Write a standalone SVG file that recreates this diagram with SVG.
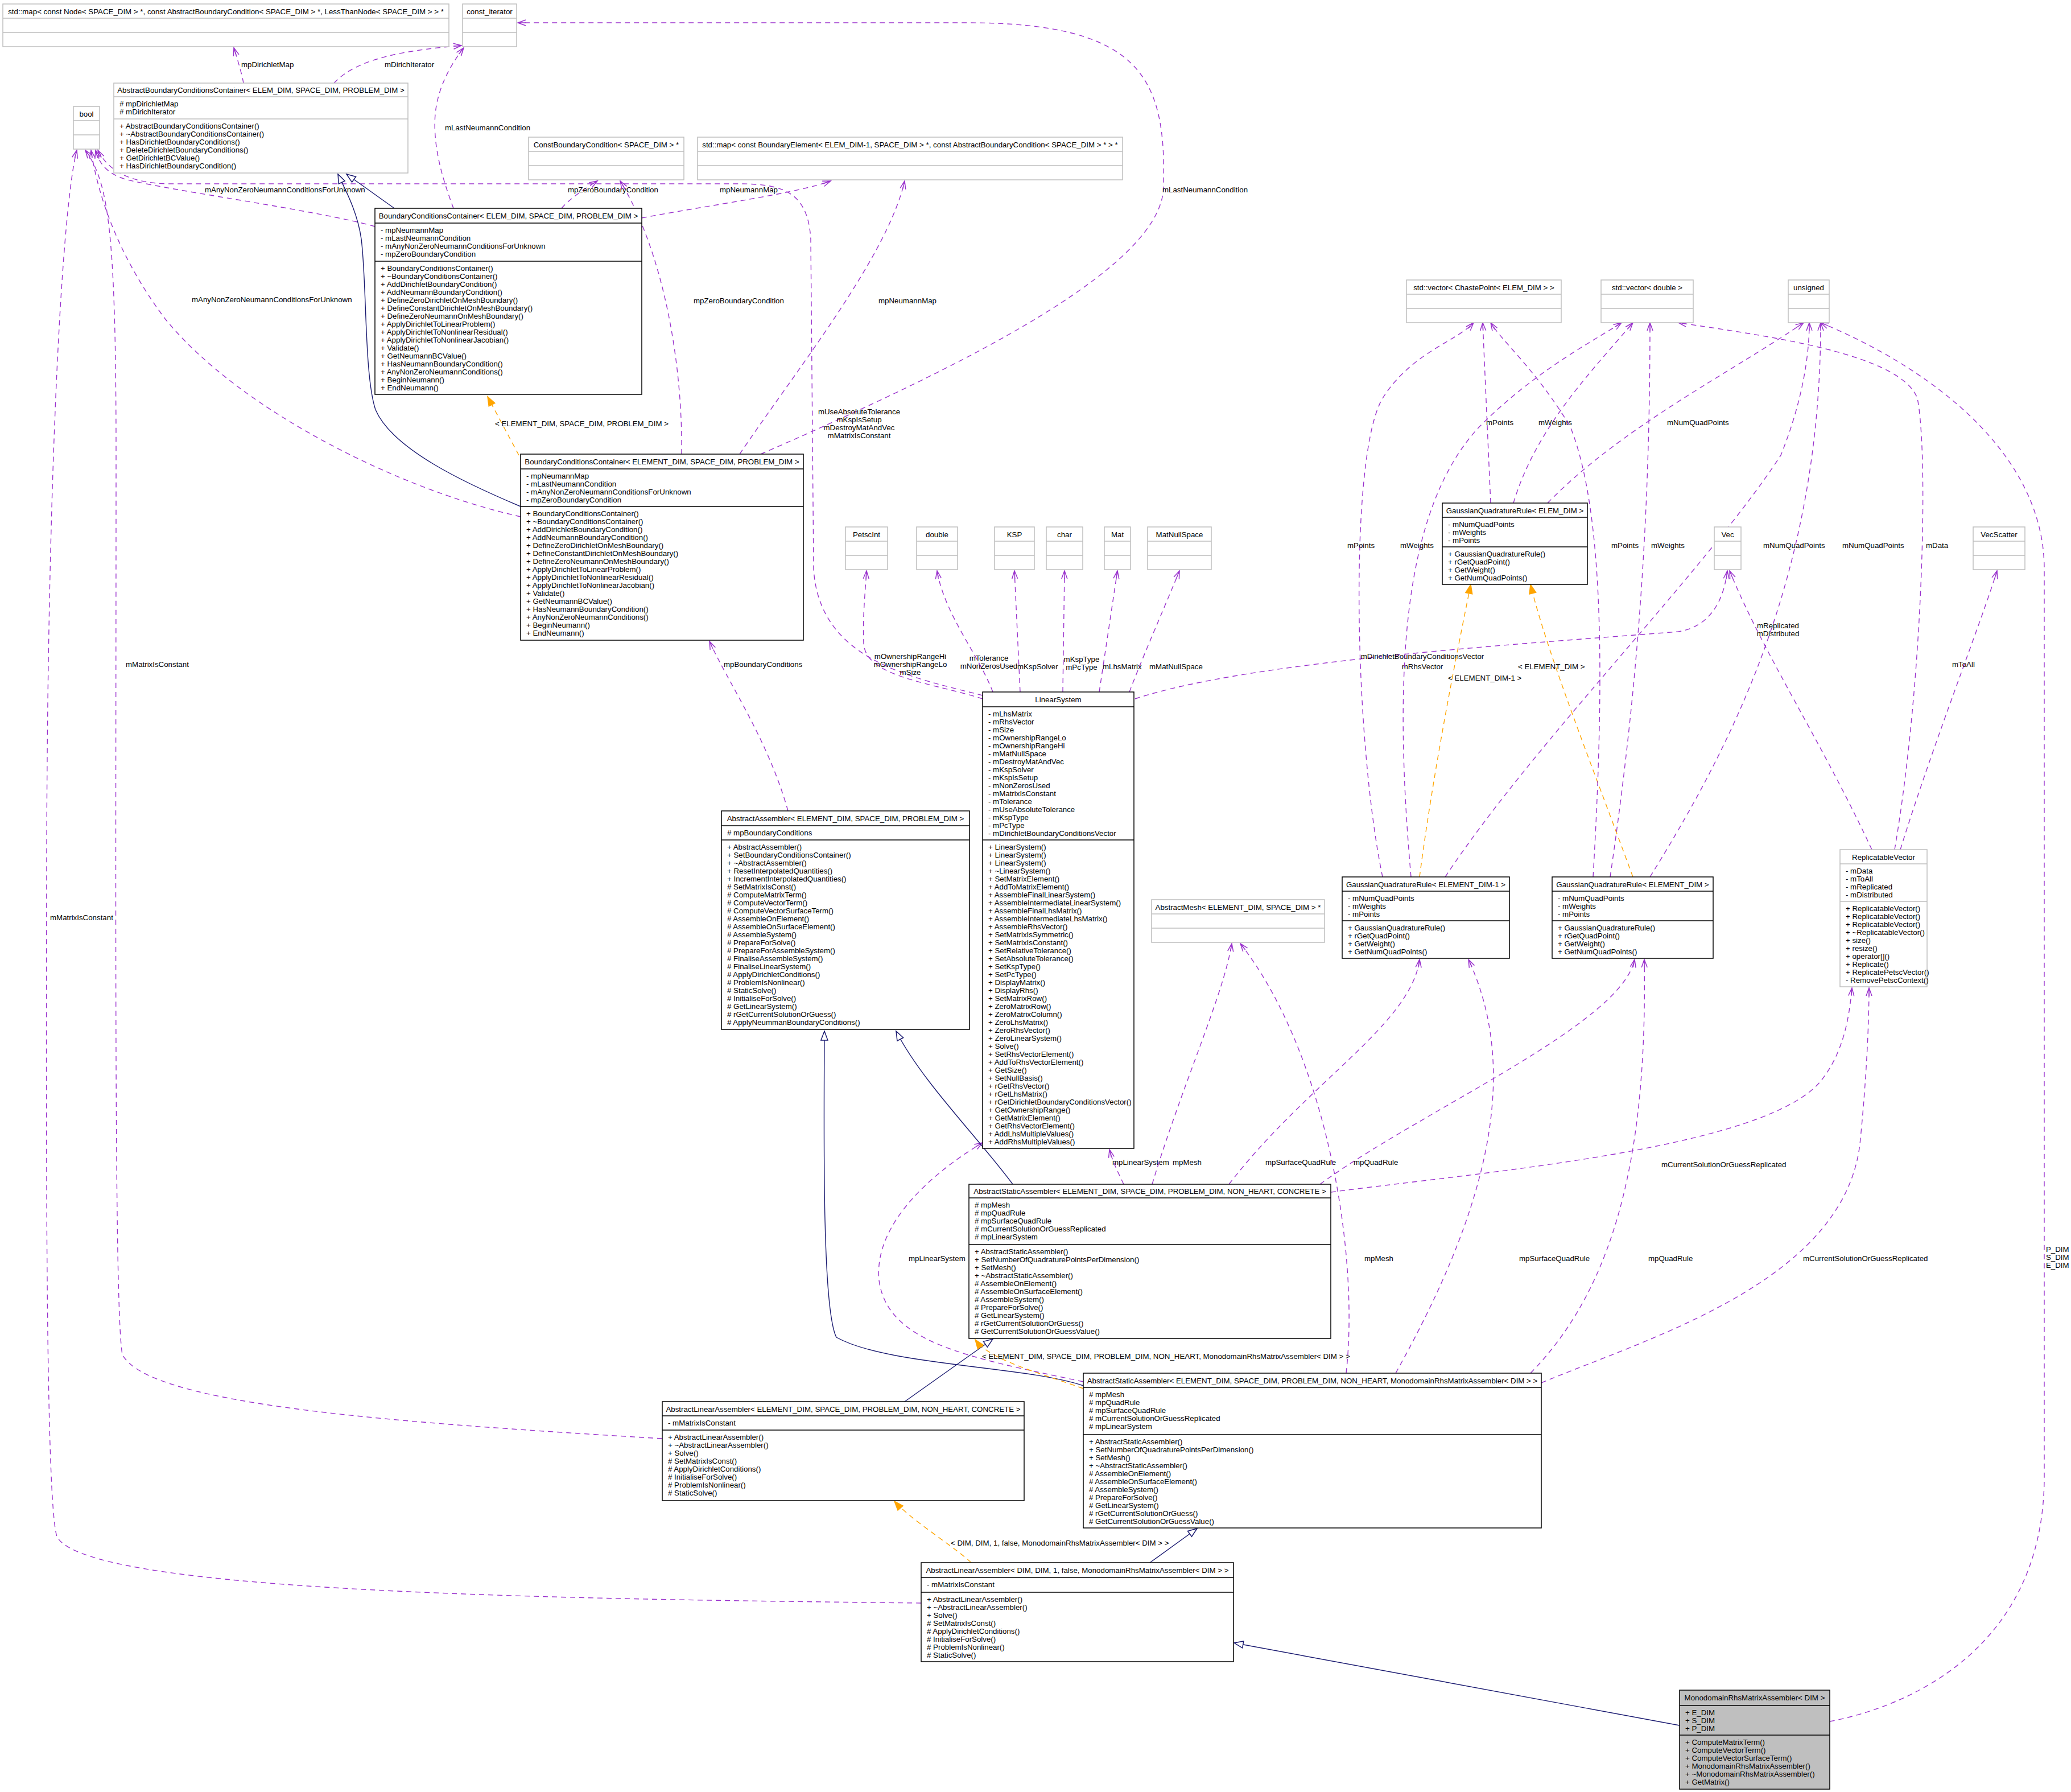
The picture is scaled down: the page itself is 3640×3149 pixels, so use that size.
<svg xmlns="http://www.w3.org/2000/svg" width="3640" height="3149" viewBox="0 0 3640 3149">
<style>
text{font-family:"Liberation Sans",Arial,Helvetica,sans-serif;font-size:13.3px;fill:#000}
.c{text-anchor:middle}
.b{fill:#fff;stroke:#000;stroke-width:1.5}
.g{fill:#fff;stroke:#bfbfbf;stroke-width:1.5}
.gr{fill:#bfbfbf;stroke:#000;stroke-width:1.5}
.dk{stroke:#000;stroke-width:1.5}
.dg{stroke:#bfbfbf;stroke-width:1.5}
.u{fill:none;stroke:#9a32cd;stroke-width:1.4;stroke-dasharray:9,7;marker-end:url(#pu)}
.i{fill:none;stroke:#191970;stroke-width:1.4;marker-end:url(#inh)}
.o{fill:none;stroke:#ffa500;stroke-width:1.4;stroke-dasharray:9,7;marker-end:url(#tpl)}
</style>
<defs>
<marker id="pu" markerWidth="18" markerHeight="14" refX="16" refY="7" orient="auto" markerUnits="userSpaceOnUse"><path d="M2,2 L16,7 L2,12 M2,7 L16,7" fill="none" stroke="#9a32cd" stroke-width="1.5"/></marker>
<marker id="inh" markerWidth="20" markerHeight="16" refX="18" refY="8" orient="auto" markerUnits="userSpaceOnUse"><path d="M2,2 L18,8 L2,14 Z" fill="#fff" stroke="#191970" stroke-width="1.5"/></marker>
<marker id="tpl" markerWidth="20" markerHeight="16" refX="18" refY="8" orient="auto" markerUnits="userSpaceOnUse"><path d="M2,2 L18,8 L2,14 Z" fill="#ffa500" stroke="#ffa500" stroke-width="1.5"/></marker>
</defs>
<rect width="3640" height="3149" fill="#fff"/>

<g id="connectors">
<path class="u" d="M428,146 C424,125 416,100 411,84"/>
<text x="424" y="118">mpDirichletMap</text>
<path class="u" d="M587,146 C630,100 720,88 811,80"/>
<text x="676" y="118">mDirichIterator</text>
<path class="u" d="M797,366 C780,320 760,260 765,200 C770,150 795,110 815,84"/>
<text x="782" y="229">mLastNeumannCondition</text>
<path class="u" d="M1337,798 C1700,640 2040,470 2045,330 C2050,140 2010,40 1700,40 L910,40"/>
<text x="2043" y="338">mLastNeumannCondition</text>
<path class="u" d="M659,398 C560,370 300,335 220,315 C190,305 175,290 168,264"/>
<text x="360" y="338">mAnyNonZeroNeumannConditionsForUnknown</text>
<path class="u" d="M915,908 C700,860 420,720 290,560 C200,440 170,330 160,264"/>
<text x="337" y="531">mAnyNonZeroNeumannConditionsForUnknown</text>
<path class="u" d="M1727,1222 C1600,1190 1440,1160 1430,1000 L1425,420 C1420,340 1380,323 1300,323 L300,323 C230,323 190,300 172,264"/>
<text class="c" x="1510" y="728">mUseAbsoluteTolerance</text>
<text class="c" x="1510" y="742">mKspIsSetup</text>
<text class="c" x="1510" y="756">mDestroyMatAndVec</text>
<text class="c" x="1510" y="770">mMatrixIsConstant</text>
<path class="u" d="M1164,2528 C700,2500 260,2470 215,2380 C200,2300 204,1500 204,800 C204,400 190,320 150,264"/>
<text x="221" y="1172">mMatrixIsConstant</text>
<path class="u" d="M1619,2817 C1000,2810 150,2800 100,2700 C80,2640 81,2000 82,1500 C84,800 110,360 135,264"/>
<text x="88" y="1617">mMatrixIsConstant</text>
<path class="u" d="M987,366 C1000,350 1030,330 1050,318"/>
<text x="998" y="338">mpZeroBoundaryCondition</text>
<path class="u" d="M1198,798 C1200,650 1170,450 1090,318"/>
<text x="1219" y="533">mpZeroBoundaryCondition</text>
<path class="u" d="M1128,383 C1250,360 1400,340 1460,318"/>
<text x="1265" y="338">mpNeumannMap</text>
<path class="u" d="M1300,798 C1400,650 1560,450 1590,318"/>
<text x="1544" y="533">mpNeumannMap</text>
<path class="i" d="M693,366 L609,306"/>
<path class="i" d="M915,890 C820,850 690,790 660,720 C640,660 645,500 635,420 C628,370 605,330 594,306"/>
<path class="o" d="M912,800 L857,697"/>
<text x="870" y="749">&lt; ELEMENT_DIM, SPACE_DIM, PROBLEM_DIM &gt;</text>
<path class="u" d="M1385,1425 C1350,1300 1280,1200 1247,1127"/>
<text x="1272" y="1172">mpBoundaryConditions</text>
<path class="u" d="M1727,1228 C1640,1200 1520,1190 1518,1130 C1516,1080 1521,1040 1523,1003"/>
<text class="c" x="1600" y="1158">mOwnershipRangeHi</text>
<text class="c" x="1600" y="1172">mOwnershipRangeLo</text>
<text class="c" x="1600" y="1186">mSize</text>
<path class="u" d="M1745,1216 C1720,1150 1660,1080 1647,1003"/>
<text class="c" x="1738" y="1161">mTolerance</text>
<text class="c" x="1738" y="1175">mNonZerosUsed</text>
<path class="u" d="M1793,1216 L1783,1003"/>
<text x="1788" y="1176">mKspSolver</text>
<path class="u" d="M1868,1216 L1871,1003"/>
<text class="c" x="1901" y="1163">mKspType</text>
<text class="c" x="1901" y="1177">mPcType</text>
<path class="u" d="M1932,1216 L1964,1003"/>
<text x="1938" y="1176">mLhsMatrix</text>
<path class="u" d="M1985,1216 C2010,1150 2050,1060 2073,1003"/>
<text x="2020" y="1176">mMatNullSpace</text>
<path class="u" d="M1995,1228 C2200,1160 2700,1130 2950,1110 C3010,1100 3030,1050 3036,1003"/>
<text class="c" x="2500" y="1158">mDirichletBoundaryConditionsVector</text>
<text class="c" x="2500" y="1176">mRhsVector</text>
<path class="u" d="M1975,2081 C1965,2060 1955,2040 1950,2020"/>
<text x="1955" y="2047">mpLinearSystem</text>
<path class="u" d="M2025,2081 C2080,1900 2150,1750 2165,1658"/>
<text x="2061" y="2047">mpMesh</text>
<path class="u" d="M2160,2081 C2300,1900 2480,1800 2495,1686"/>
<text x="2224" y="2047">mpSurfaceQuadRule</text>
<path class="u" d="M2320,2081 C2500,1950 2850,1800 2873,1686"/>
<text x="2379" y="2047">mpQuadRule</text>
<path class="u" d="M2339,2095 C2600,2060 3100,2020 3200,1900 C3240,1850 3250,1790 3255,1736"/>
<text x="2920" y="2051">mCurrentSolutionOrGuessReplicated</text>
<path class="u" d="M1904,2428 C1700,2385 1560,2360 1545,2250 C1535,2150 1640,2060 1727,2008"/>
<text x="1597" y="2216">mpLinearSystem</text>
<path class="u" d="M2366,2413 C2390,2200 2330,1850 2180,1658"/>
<text x="2398" y="2216">mpMesh</text>
<path class="u" d="M2453,2413 C2600,2150 2680,1900 2581,1686"/>
<text x="2670" y="2216">mpSurfaceQuadRule</text>
<path class="u" d="M2690,2413 C2850,2250 2895,2000 2890,1686"/>
<text x="2897" y="2216">mpQuadRule</text>
<path class="u" d="M2709,2430 C2900,2350 3250,2250 3270,2000 C3280,1900 3285,1800 3285,1736"/>
<text x="3169" y="2216">mCurrentSolutionOrGuessReplicated</text>
<path class="i" d="M1780,2081 C1720,2000 1620,1900 1575,1812"/>
<path class="i" d="M1590,2463 L1745,2353"/>
<path class="i" d="M1904,2435 C1800,2400 1560,2400 1470,2350 C1445,2300 1448,2000 1449,1812"/>
<path class="o" d="M1904,2440 C1820,2410 1740,2390 1714,2354"/>
<text x="1726" y="2388">&lt; ELEMENT_DIM, SPACE_DIM, PROBLEM_DIM, NON_HEART, MonodomainRhsMatrixAssembler&lt; DIM &gt; &gt;</text>
<path class="o" d="M1707,2746 C1680,2720 1600,2670 1572,2638"/>
<text x="1671" y="2716">&lt; DIM, DIM, 1, false, MonodomainRhsMatrixAssembler&lt; DIM &gt; &gt;</text>
<path class="i" d="M2021,2746 L2104,2686"/>
<path class="i" d="M2952,3032 L2169,2887"/>
<path class="u" d="M3216,3025 C3350,3000 3590,2900 3593,2600 L3593,1000 C3593,800 3400,650 3200,567"/>
<text x="3596" y="2200">P_DIM</text>
<text x="3596" y="2214">S_DIM</text>
<text x="3596" y="2228">E_DIM</text>
<path class="u" d="M2620,884 L2606,567"/>
<text x="2612" y="747">mPoints</text>
<path class="u" d="M2660,884 C2700,750 2800,650 2870,567"/>
<text x="2704" y="747">mWeights</text>
<path class="u" d="M2720,884 C2850,750 3050,650 3170,567"/>
<text x="2930" y="747">mNumQuadPoints</text>
<path class="o" d="M2495,1541 C2520,1350 2560,1150 2585,1027"/>
<text x="2545" y="1196">&lt; ELEMENT_DIM-1 &gt;</text>
<path class="o" d="M2870,1541 C2800,1350 2720,1150 2690,1027"/>
<text x="2668" y="1176">&lt; ELEMENT_DIM &gt;</text>
<path class="u" d="M2430,1541 C2380,1300 2370,800 2430,700 C2480,620 2560,600 2590,567"/>
<text x="2368" y="963">mPoints</text>
<path class="u" d="M2480,1541 C2450,1200 2460,900 2600,750 C2700,650 2800,600 2850,567"/>
<text x="2461" y="963">mWeights</text>
<path class="u" d="M2540,1541 C2700,1300 3000,1000 3130,800 C3170,700 3180,620 3180,567"/>
<text x="3099" y="963">mNumQuadPoints</text>
<path class="u" d="M2800,1541 C2820,1200 2820,900 2760,750 C2700,650 2640,600 2620,567"/>
<text x="2832" y="963">mPoints</text>
<path class="u" d="M2830,1541 C2880,1200 2900,900 2900,567"/>
<text x="2902" y="963">mWeights</text>
<path class="u" d="M2900,1541 C3050,1300 3200,1000 3200,567"/>
<text x="3238" y="963">mNumQuadPoints</text>
<path class="u" d="M3330,1493 C3380,1200 3390,800 3370,700 C3340,620 3100,590 2950,567"/>
<text x="3385" y="963">mData</text>
<path class="u" d="M3290,1493 C3200,1300 3100,1150 3040,1003"/>
<text class="c" x="3125" y="1104">mReplicated</text>
<text class="c" x="3125" y="1118">mDistributed</text>
<path class="u" d="M3340,1493 C3400,1300 3480,1100 3510,1003"/>
<text x="3431" y="1172">mToAll</text>
</g>

<g id="n_map1"><rect class="g" x="5" y="7" width="784" height="75"/><path class="dg" d="M5,32H789M5,57H789"/><text class="c" x="397" y="24.5">std::map&lt; const Node&lt; SPACE_DIM &gt; *, const AbstractBoundaryCondition&lt; SPACE_DIM &gt; *, LessThanNode&lt; SPACE_DIM &gt; &gt; *</text></g>
<g id="n_constit"><rect class="g" x="813" y="7" width="95" height="75"/><path class="dg" d="M813,32H908M813,57H908"/><text class="c" x="860.5" y="24.5">const_iterator</text></g>
<g id="n_bool"><rect class="g" x="129" y="187" width="46" height="75"/><path class="dg" d="M129,212H175M129,237H175"/><text class="c" x="152" y="204.5">bool</text></g>
<g id="n_constbc"><rect class="g" x="929" y="241" width="273" height="75"/><path class="dg" d="M929,266H1202M929,291H1202"/><text class="c" x="1065.5" y="258.5">ConstBoundaryCondition&lt; SPACE_DIM &gt; *</text></g>
<g id="n_map2"><rect class="g" x="1226" y="241" width="747" height="75"/><path class="dg" d="M1226,266H1973M1226,291H1973"/><text class="c" x="1599.5" y="258.5">std::map&lt; const BoundaryElement&lt; ELEM_DIM-1, SPACE_DIM &gt; *, const AbstractBoundaryCondition&lt; SPACE_DIM &gt; * &gt; *</text></g>

<g id="n_abcc"><rect class="g" x="200" y="146" width="517" height="158"/><path class="dg" d="M200,170H717M200,209H717"/><text class="c" x="458.5" y="163">AbstractBoundaryConditionsContainer&lt; ELEM_DIM, SPACE_DIM, PROBLEM_DIM &gt;</text>
<text x="210" y="186.5"><tspan x="210">#  mpDirichletMap</tspan><tspan x="210" dy="14">#  mDirichIterator</tspan></text>
<text x="210" y="225.5"><tspan x="210">+ AbstractBoundaryConditionsContainer()</tspan><tspan x="210" dy="14">+ ~AbstractBoundaryConditionsContainer()</tspan><tspan x="210" dy="14">+ HasDirichletBoundaryConditions()</tspan><tspan x="210" dy="14">+ DeleteDirichletBoundaryConditions()</tspan><tspan x="210" dy="14">+ GetDirichletBCValue()</tspan><tspan x="210" dy="14">+ HasDirichletBoundaryCondition()</tspan></text></g>

<g id="n_bcc_elem"><rect class="b" x="659" y="366" width="469" height="327"/><path class="dk" d="M659,392H1128M659,459H1128"/><text class="c" x="893.5" y="384">BoundaryConditionsContainer&lt; ELEM_DIM, SPACE_DIM, PROBLEM_DIM &gt;</text>
<text x="669" y="408.5"><tspan x="669">- mpNeumannMap</tspan><tspan x="669" dy="14">- mLastNeumannCondition</tspan><tspan x="669" dy="14">- mAnyNonZeroNeumannConditionsForUnknown</tspan><tspan x="669" dy="14">- mpZeroBoundaryCondition</tspan></text>
<text x="669" y="475.5"><tspan x="669">+ BoundaryConditionsContainer()</tspan><tspan x="669" dy="14">+ ~BoundaryConditionsContainer()</tspan><tspan x="669" dy="14">+ AddDirichletBoundaryCondition()</tspan><tspan x="669" dy="14">+ AddNeumannBoundaryCondition()</tspan><tspan x="669" dy="14">+ DefineZeroDirichletOnMeshBoundary()</tspan><tspan x="669" dy="14">+ DefineConstantDirichletOnMeshBoundary()</tspan><tspan x="669" dy="14">+ DefineZeroNeumannOnMeshBoundary()</tspan><tspan x="669" dy="14">+ ApplyDirichletToLinearProblem()</tspan><tspan x="669" dy="14">+ ApplyDirichletToNonlinearResidual()</tspan><tspan x="669" dy="14">+ ApplyDirichletToNonlinearJacobian()</tspan><tspan x="669" dy="14">+ Validate()</tspan><tspan x="669" dy="14">+ GetNeumannBCValue()</tspan><tspan x="669" dy="14">+ HasNeumannBoundaryCondition()</tspan><tspan x="669" dy="14">+ AnyNonZeroNeumannConditions()</tspan><tspan x="669" dy="14">+ BeginNeumann()</tspan><tspan x="669" dy="14">+ EndNeumann()</tspan></text></g>

<g id="n_bcc_element"><rect class="b" x="915" y="798" width="497" height="327"/><path class="dk" d="M915,824H1412M915,890H1412"/><text class="c" x="1163.5" y="816">BoundaryConditionsContainer&lt; ELEMENT_DIM, SPACE_DIM, PROBLEM_DIM &gt;</text>
<text x="925" y="840.5"><tspan x="925">- mpNeumannMap</tspan><tspan x="925" dy="14">- mLastNeumannCondition</tspan><tspan x="925" dy="14">- mAnyNonZeroNeumannConditionsForUnknown</tspan><tspan x="925" dy="14">- mpZeroBoundaryCondition</tspan></text>
<text x="925" y="906.5"><tspan x="925">+ BoundaryConditionsContainer()</tspan><tspan x="925" dy="14">+ ~BoundaryConditionsContainer()</tspan><tspan x="925" dy="14">+ AddDirichletBoundaryCondition()</tspan><tspan x="925" dy="14">+ AddNeumannBoundaryCondition()</tspan><tspan x="925" dy="14">+ DefineZeroDirichletOnMeshBoundary()</tspan><tspan x="925" dy="14">+ DefineConstantDirichletOnMeshBoundary()</tspan><tspan x="925" dy="14">+ DefineZeroNeumannOnMeshBoundary()</tspan><tspan x="925" dy="14">+ ApplyDirichletToLinearProblem()</tspan><tspan x="925" dy="14">+ ApplyDirichletToNonlinearResidual()</tspan><tspan x="925" dy="14">+ ApplyDirichletToNonlinearJacobian()</tspan><tspan x="925" dy="14">+ Validate()</tspan><tspan x="925" dy="14">+ GetNeumannBCValue()</tspan><tspan x="925" dy="14">+ HasNeumannBoundaryCondition()</tspan><tspan x="925" dy="14">+ AnyNonZeroNeumannConditions()</tspan><tspan x="925" dy="14">+ BeginNeumann()</tspan><tspan x="925" dy="14">+ EndNeumann()</tspan></text></g>

<g id="n_aa"><rect class="b" x="1268" y="1425" width="436" height="384"/><path class="dk" d="M1268,1451H1704M1268,1476H1704"/><text class="c" x="1486" y="1443">AbstractAssembler&lt; ELEMENT_DIM, SPACE_DIM, PROBLEM_DIM &gt;</text>
<text x="1278" y="1467.5"># mpBoundaryConditions</text>
<text x="1278" y="1492.5"><tspan x="1278">+ AbstractAssembler()</tspan><tspan x="1278" dy="14">+ SetBoundaryConditionsContainer()</tspan><tspan x="1278" dy="14">+ ~AbstractAssembler()</tspan><tspan x="1278" dy="14">+ ResetInterpolatedQuantities()</tspan><tspan x="1278" dy="14">+ IncrementInterpolatedQuantities()</tspan><tspan x="1278" dy="14"># SetMatrixIsConst()</tspan><tspan x="1278" dy="14"># ComputeMatrixTerm()</tspan><tspan x="1278" dy="14"># ComputeVectorTerm()</tspan><tspan x="1278" dy="14"># ComputeVectorSurfaceTerm()</tspan><tspan x="1278" dy="14"># AssembleOnElement()</tspan><tspan x="1278" dy="14"># AssembleOnSurfaceElement()</tspan><tspan x="1278" dy="14"># AssembleSystem()</tspan><tspan x="1278" dy="14"># PrepareForSolve()</tspan><tspan x="1278" dy="14"># PrepareForAssembleSystem()</tspan><tspan x="1278" dy="14"># FinaliseAssembleSystem()</tspan><tspan x="1278" dy="14"># FinaliseLinearSystem()</tspan><tspan x="1278" dy="14"># ApplyDirichletConditions()</tspan><tspan x="1278" dy="14"># ProblemIsNonlinear()</tspan><tspan x="1278" dy="14"># StaticSolve()</tspan><tspan x="1278" dy="14"># InitialiseForSolve()</tspan><tspan x="1278" dy="14"># GetLinearSystem()</tspan><tspan x="1278" dy="14"># rGetCurrentSolutionOrGuess()</tspan><tspan x="1278" dy="14"># ApplyNeummanBoundaryConditions()</tspan></text></g>

<g id="n_ls"><rect class="b" x="1727" y="1216" width="266" height="802"/><path class="dk" d="M1727,1242H1993M1727,1476H1993"/><text class="c" x="1860" y="1234">LinearSystem</text>
<text x="1737" y="1258.5"><tspan x="1737">- mLhsMatrix</tspan><tspan x="1737" dy="14">- mRhsVector</tspan><tspan x="1737" dy="14">- mSize</tspan><tspan x="1737" dy="14">- mOwnershipRangeLo</tspan><tspan x="1737" dy="14">- mOwnershipRangeHi</tspan><tspan x="1737" dy="14">- mMatNullSpace</tspan><tspan x="1737" dy="14">- mDestroyMatAndVec</tspan><tspan x="1737" dy="14">- mKspSolver</tspan><tspan x="1737" dy="14">- mKspIsSetup</tspan><tspan x="1737" dy="14">- mNonZerosUsed</tspan><tspan x="1737" dy="14">- mMatrixIsConstant</tspan><tspan x="1737" dy="14">- mTolerance</tspan><tspan x="1737" dy="14">- mUseAbsoluteTolerance</tspan><tspan x="1737" dy="14">- mKspType</tspan><tspan x="1737" dy="14">- mPcType</tspan><tspan x="1737" dy="14">- mDirichletBoundaryConditionsVector</tspan></text>
<text x="1737" y="1492.5"><tspan x="1737">+ LinearSystem()</tspan><tspan x="1737" dy="14">+ LinearSystem()</tspan><tspan x="1737" dy="14">+ LinearSystem()</tspan><tspan x="1737" dy="14">+ ~LinearSystem()</tspan><tspan x="1737" dy="14">+ SetMatrixElement()</tspan><tspan x="1737" dy="14">+ AddToMatrixElement()</tspan><tspan x="1737" dy="14">+ AssembleFinalLinearSystem()</tspan><tspan x="1737" dy="14">+ AssembleIntermediateLinearSystem()</tspan><tspan x="1737" dy="14">+ AssembleFinalLhsMatrix()</tspan><tspan x="1737" dy="14">+ AssembleIntermediateLhsMatrix()</tspan><tspan x="1737" dy="14">+ AssembleRhsVector()</tspan><tspan x="1737" dy="14">+ SetMatrixIsSymmetric()</tspan><tspan x="1737" dy="14">+ SetMatrixIsConstant()</tspan><tspan x="1737" dy="14">+ SetRelativeTolerance()</tspan><tspan x="1737" dy="14">+ SetAbsoluteTolerance()</tspan><tspan x="1737" dy="14">+ SetKspType()</tspan><tspan x="1737" dy="14">+ SetPcType()</tspan><tspan x="1737" dy="14">+ DisplayMatrix()</tspan><tspan x="1737" dy="14">+ DisplayRhs()</tspan><tspan x="1737" dy="14">+ SetMatrixRow()</tspan><tspan x="1737" dy="14">+ ZeroMatrixRow()</tspan><tspan x="1737" dy="14">+ ZeroMatrixColumn()</tspan><tspan x="1737" dy="14">+ ZeroLhsMatrix()</tspan><tspan x="1737" dy="14">+ ZeroRhsVector()</tspan><tspan x="1737" dy="14">+ ZeroLinearSystem()</tspan><tspan x="1737" dy="14">+ Solve()</tspan><tspan x="1737" dy="14">+ SetRhsVectorElement()</tspan><tspan x="1737" dy="14">+ AddToRhsVectorElement()</tspan><tspan x="1737" dy="14">+ GetSize()</tspan><tspan x="1737" dy="14">+ SetNullBasis()</tspan><tspan x="1737" dy="14">+ rGetRhsVector()</tspan><tspan x="1737" dy="14">+ rGetLhsMatrix()</tspan><tspan x="1737" dy="14">+ rGetDirichletBoundaryConditionsVector()</tspan><tspan x="1737" dy="14">+ GetOwnershipRange()</tspan><tspan x="1737" dy="14">+ GetMatrixElement()</tspan><tspan x="1737" dy="14">+ GetRhsVectorElement()</tspan><tspan x="1737" dy="14">+ AddLhsMultipleValues()</tspan><tspan x="1737" dy="14">+ AddRhsMultipleValues()</tspan></text></g>

<g id="n_petscint"><rect class="g" x="1486" y="926" width="74" height="75"/><path class="dg" d="M1486,951H1560M1486,976H1560"/><text class="c" x="1523" y="943.5">PetscInt</text></g>
<g id="n_double"><rect class="g" x="1611" y="926" width="72" height="75"/><path class="dg" d="M1611,951H1683M1611,976H1683"/><text class="c" x="1647" y="943.5">double</text></g>
<g id="n_ksp"><rect class="g" x="1748" y="926" width="70" height="75"/><path class="dg" d="M1748,951H1818M1748,976H1818"/><text class="c" x="1783" y="943.5">KSP</text></g>
<g id="n_char"><rect class="g" x="1839" y="926" width="64" height="75"/><path class="dg" d="M1839,951H1903M1839,976H1903"/><text class="c" x="1871" y="943.5">char</text></g>
<g id="n_mat"><rect class="g" x="1941" y="926" width="46" height="75"/><path class="dg" d="M1941,951H1987M1941,976H1987"/><text class="c" x="1964" y="943.5">Mat</text></g>
<g id="n_matnull"><rect class="g" x="2017" y="926" width="112" height="75"/><path class="dg" d="M2017,951H2129M2017,976H2129"/><text class="c" x="2073" y="943.5">MatNullSpace</text></g>
<g id="n_vec"><rect class="g" x="3013" y="926" width="47" height="75"/><path class="dg" d="M3013,951H3060M3013,976H3060"/><text class="c" x="3036.5" y="943.5">Vec</text></g>
<g id="n_vecscatter"><rect class="g" x="3468" y="926" width="91" height="75"/><path class="dg" d="M3468,951H3559M3468,976H3559"/><text class="c" x="3513.5" y="943.5">VecScatter</text></g>
<g id="n_vec_cp"><rect class="g" x="2472" y="492" width="272" height="75"/><path class="dg" d="M2472,517H2744M2472,542H2744"/><text class="c" x="2608" y="509.5">std::vector&lt; ChastePoint&lt; ELEM_DIM &gt; &gt;</text></g>
<g id="n_vec_d"><rect class="g" x="2814" y="492" width="162" height="75"/><path class="dg" d="M2814,517H2976M2814,542H2976"/><text class="c" x="2895" y="509.5">std::vector&lt; double &gt;</text></g>
<g id="n_unsigned"><rect class="g" x="3143" y="492" width="72" height="75"/><path class="dg" d="M3143,517H3215M3143,542H3215"/><text class="c" x="3179" y="509.5">unsigned</text></g>

<g id="n_gqr_elem"><rect class="b" x="2535" y="884" width="255" height="143"/><path class="dk" d="M2535,909H2790M2535,961H2790"/><text class="c" x="2662.5" y="901.5">GaussianQuadratureRule&lt; ELEM_DIM &gt;</text>
<text x="2545" y="925.5"><tspan x="2545">- mNumQuadPoints</tspan><tspan x="2545" dy="14">- mWeights</tspan><tspan x="2545" dy="14">- mPoints</tspan></text>
<text x="2545" y="977.5"><tspan x="2545">+ GaussianQuadratureRule()</tspan><tspan x="2545" dy="14">+ rGetQuadPoint()</tspan><tspan x="2545" dy="14">+ GetWeight()</tspan><tspan x="2545" dy="14">+ GetNumQuadPoints()</tspan></text></g>
<g id="n_gqr_m1"><rect class="b" x="2359" y="1541" width="294" height="143"/><path class="dk" d="M2359,1566H2653M2359,1618H2653"/><text class="c" x="2506" y="1558.5">GaussianQuadratureRule&lt; ELEMENT_DIM-1 &gt;</text>
<text x="2369" y="1582.5"><tspan x="2369">- mNumQuadPoints</tspan><tspan x="2369" dy="14">- mWeights</tspan><tspan x="2369" dy="14">- mPoints</tspan></text>
<text x="2369" y="1634.5"><tspan x="2369">+ GaussianQuadratureRule()</tspan><tspan x="2369" dy="14">+ rGetQuadPoint()</tspan><tspan x="2369" dy="14">+ GetWeight()</tspan><tspan x="2369" dy="14">+ GetNumQuadPoints()</tspan></text></g>
<g id="n_gqr_element"><rect class="b" x="2728" y="1541" width="283" height="143"/><path class="dk" d="M2728,1566H3011M2728,1618H3011"/><text class="c" x="2869.5" y="1558.5">GaussianQuadratureRule&lt; ELEMENT_DIM &gt;</text>
<text x="2738" y="1582.5"><tspan x="2738">- mNumQuadPoints</tspan><tspan x="2738" dy="14">- mWeights</tspan><tspan x="2738" dy="14">- mPoints</tspan></text>
<text x="2738" y="1634.5"><tspan x="2738">+ GaussianQuadratureRule()</tspan><tspan x="2738" dy="14">+ rGetQuadPoint()</tspan><tspan x="2738" dy="14">+ GetWeight()</tspan><tspan x="2738" dy="14">+ GetNumQuadPoints()</tspan></text></g>
<g id="n_mesh"><rect class="g" x="2024" y="1581" width="304" height="75"/><path class="dg" d="M2024,1606H2328M2024,1631H2328"/><text class="c" x="2176" y="1598.5">AbstractMesh&lt; ELEMENT_DIM, SPACE_DIM &gt; *</text></g>
<g id="n_rv"><rect class="g" x="3234" y="1493" width="153" height="241"/><path class="dg" d="M3234,1518H3387M3234,1584H3387"/><text class="c" x="3310.5" y="1510.5">ReplicatableVector</text>
<text x="3244" y="1534.5"><tspan x="3244">- mData</tspan><tspan x="3244" dy="14">- mToAll</tspan><tspan x="3244" dy="14">- mReplicated</tspan><tspan x="3244" dy="14">- mDistributed</tspan></text>
<text x="3244" y="1600.5"><tspan x="3244">+ ReplicatableVector()</tspan><tspan x="3244" dy="14">+ ReplicatableVector()</tspan><tspan x="3244" dy="14">+ ReplicatableVector()</tspan><tspan x="3244" dy="14">+ ~ReplicatableVector()</tspan><tspan x="3244" dy="14">+ size()</tspan><tspan x="3244" dy="14">+ resize()</tspan><tspan x="3244" dy="14">+ operator[]()</tspan><tspan x="3244" dy="14">+ Replicate()</tspan><tspan x="3244" dy="14">+ ReplicatePetscVector()</tspan><tspan x="3244" dy="14">- RemovePetscContext()</tspan></text></g>

<g id="n_asa_c"><rect class="b" x="1703" y="2081" width="636" height="271"/><path class="dk" d="M1703,2105H2339M1703,2187H2339"/><text class="c" x="2021" y="2098">AbstractStaticAssembler&lt; ELEMENT_DIM, SPACE_DIM, PROBLEM_DIM, NON_HEART, CONCRETE &gt;</text>
<text x="1713" y="2121.5"><tspan x="1713"># mpMesh</tspan><tspan x="1713" dy="14"># mpQuadRule</tspan><tspan x="1713" dy="14"># mpSurfaceQuadRule</tspan><tspan x="1713" dy="14"># mCurrentSolutionOrGuessReplicated</tspan><tspan x="1713" dy="14"># mpLinearSystem</tspan></text>
<text x="1713" y="2203.5"><tspan x="1713">+ AbstractStaticAssembler()</tspan><tspan x="1713" dy="14">+ SetNumberOfQuadraturePointsPerDimension()</tspan><tspan x="1713" dy="14">+ SetMesh()</tspan><tspan x="1713" dy="14">+ ~AbstractStaticAssembler()</tspan><tspan x="1713" dy="14"># AssembleOnElement()</tspan><tspan x="1713" dy="14"># AssembleOnSurfaceElement()</tspan><tspan x="1713" dy="14"># AssembleSystem()</tspan><tspan x="1713" dy="14"># PrepareForSolve()</tspan><tspan x="1713" dy="14"># GetLinearSystem()</tspan><tspan x="1713" dy="14"># rGetCurrentSolutionOrGuess()</tspan><tspan x="1713" dy="14"># GetCurrentSolutionOrGuessValue()</tspan></text></g>

<g id="n_asa_m"><rect class="b" x="1904" y="2413" width="805" height="272"/><path class="dk" d="M1904,2438H2709M1904,2521H2709"/><text class="c" x="2306.5" y="2430.5">AbstractStaticAssembler&lt; ELEMENT_DIM, SPACE_DIM, PROBLEM_DIM, NON_HEART, MonodomainRhsMatrixAssembler&lt; DIM &gt; &gt;</text>
<text x="1914" y="2454.5"><tspan x="1914"># mpMesh</tspan><tspan x="1914" dy="14"># mpQuadRule</tspan><tspan x="1914" dy="14"># mpSurfaceQuadRule</tspan><tspan x="1914" dy="14"># mCurrentSolutionOrGuessReplicated</tspan><tspan x="1914" dy="14"># mpLinearSystem</tspan></text>
<text x="1914" y="2537.5"><tspan x="1914">+ AbstractStaticAssembler()</tspan><tspan x="1914" dy="14">+ SetNumberOfQuadraturePointsPerDimension()</tspan><tspan x="1914" dy="14">+ SetMesh()</tspan><tspan x="1914" dy="14">+ ~AbstractStaticAssembler()</tspan><tspan x="1914" dy="14"># AssembleOnElement()</tspan><tspan x="1914" dy="14"># AssembleOnSurfaceElement()</tspan><tspan x="1914" dy="14"># AssembleSystem()</tspan><tspan x="1914" dy="14"># PrepareForSolve()</tspan><tspan x="1914" dy="14"># GetLinearSystem()</tspan><tspan x="1914" dy="14"># rGetCurrentSolutionOrGuess()</tspan><tspan x="1914" dy="14"># GetCurrentSolutionOrGuessValue()</tspan></text></g>

<g id="n_ala_c"><rect class="b" x="1164" y="2463" width="636" height="174"/><path class="dk" d="M1164,2488H1800M1164,2513H1800"/><text class="c" x="1482" y="2480.5">AbstractLinearAssembler&lt; ELEMENT_DIM, SPACE_DIM, PROBLEM_DIM, NON_HEART, CONCRETE &gt;</text>
<text x="1174" y="2504.5">- mMatrixIsConstant</text>
<text x="1174" y="2529.5"><tspan x="1174">+ AbstractLinearAssembler()</tspan><tspan x="1174" dy="14">+ ~AbstractLinearAssembler()</tspan><tspan x="1174" dy="14">+ Solve()</tspan><tspan x="1174" dy="14"># SetMatrixIsConst()</tspan><tspan x="1174" dy="14"># ApplyDirichletConditions()</tspan><tspan x="1174" dy="14"># InitialiseForSolve()</tspan><tspan x="1174" dy="14"># ProblemIsNonlinear()</tspan><tspan x="1174" dy="14"># StaticSolve()</tspan></text></g>

<g id="n_ala_d"><rect class="b" x="1619" y="2746" width="549" height="174"/><path class="dk" d="M1619,2772H2168M1619,2798H2168"/><text class="c" x="1893.5" y="2763.5">AbstractLinearAssembler&lt; DIM, DIM, 1, false, MonodomainRhsMatrixAssembler&lt; DIM &gt; &gt;</text>
<text x="1629" y="2788.5">- mMatrixIsConstant</text>
<text x="1629" y="2814.5"><tspan x="1629">+ AbstractLinearAssembler()</tspan><tspan x="1629" dy="14">+ ~AbstractLinearAssembler()</tspan><tspan x="1629" dy="14">+ Solve()</tspan><tspan x="1629" dy="14"># SetMatrixIsConst()</tspan><tspan x="1629" dy="14"># ApplyDirichletConditions()</tspan><tspan x="1629" dy="14"># InitialiseForSolve()</tspan><tspan x="1629" dy="14"># ProblemIsNonlinear()</tspan><tspan x="1629" dy="14"># StaticSolve()</tspan></text></g>

<g id="n_mrma"><rect class="gr" x="2952" y="2970" width="264" height="174"/><path class="dk" d="M2952,2997H3216M2952,3049H3216"/><text class="c" x="3084" y="2987.5">MonodomainRhsMatrixAssembler&lt; DIM &gt;</text>
<text x="2962" y="3013.5"><tspan x="2962">+ E_DIM</tspan><tspan x="2962" dy="14">+ S_DIM</tspan><tspan x="2962" dy="14">+ P_DIM</tspan></text>
<text x="2962" y="3065.5"><tspan x="2962">+ ComputeMatrixTerm()</tspan><tspan x="2962" dy="14">+ ComputeVectorTerm()</tspan><tspan x="2962" dy="14">+ ComputeVectorSurfaceTerm()</tspan><tspan x="2962" dy="14">+ MonodomainRhsMatrixAssembler()</tspan><tspan x="2962" dy="14">+ ~MonodomainRhsMatrixAssembler()</tspan><tspan x="2962" dy="14">+ GetMatrix()</tspan></text></g>
</svg>
